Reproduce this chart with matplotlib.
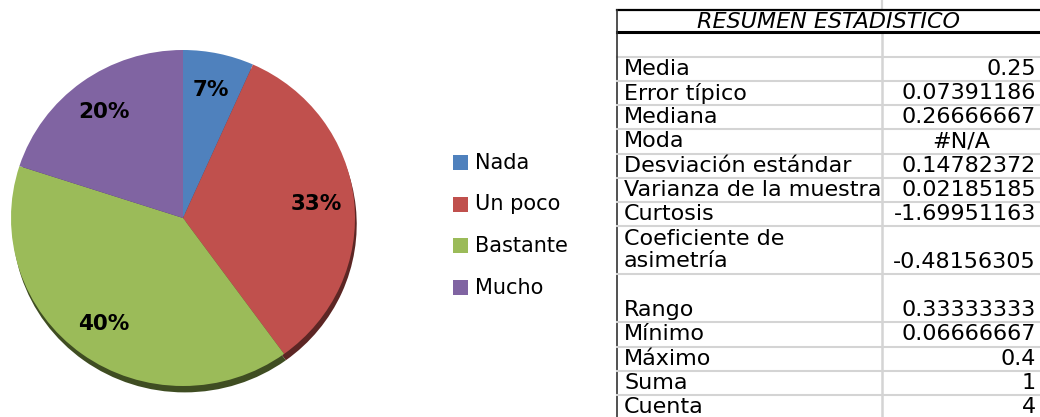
import matplotlib.pyplot as plt
from matplotlib.patches import Rectangle
from matplotlib.transforms import Bbox, TransformedBbox

# pie data
categories = ['Nada', 'Un poco', 'Bastante', 'Mucho']
shares = [0.06666667, 0.33333333, 0.4, 0.2]
colors = ['#4F81BD', '#C0504D', '#9BBB59', '#8064A2']
side_colors = ['#2C4A6E', '#5C2624', '#3F4D22', '#463659']

# summary table
table_title = 'RESUMEN ESTADISTICO'
stat_labels = ['Media', 'Error típico', 'Mediana', 'Moda', 'Desviación estándar',
               'Varianza de la muestra', 'Curtosis', 'Coeficiente de\nasimetría',
               'Rango', 'Mínimo', 'Máximo', 'Suma', 'Cuenta']
stat_values = ['0.25', '0.07391186', '0.26666667', '#N/A', '0.14782372',
               '0.02185185', '-1.69951163', '-0.48156305', '0.33333333',
               '0.06666667', '0.4', '1', '4']
row_units = [1, 1, 1, 1, 1, 1, 1, 2, 2, 1, 1, 1, 1]

W, H = 1040, 417
fig = plt.figure(figsize=(W / 100, H / 100), dpi=100)
fig.patch.set_facecolor('white')

# overlay in pixel coordinates for legend and table
ov = fig.add_axes([0, 0, 1, 1])
ov.set_xlim(0, W)
ov.set_ylim(H, 0)
ov.axis('off')

# pie: ellipse about 344 x 336 px centred at (183, 218)
ax = fig.add_axes([11 / W, (H - 386) / H, 344 / W, 336 / H])
ax.pie(shares, colors=side_colors, startangle=90, counterclock=False,
       center=(0.01, -0.038), wedgeprops=dict(linewidth=0))
wedges, texts, autotexts = ax.pie(
    shares, colors=colors, startangle=90, counterclock=False,
    autopct='%.0f%%', pctdistance=0.78,
    wedgeprops=dict(linewidth=0),
    textprops=dict(fontsize=15.5, fontweight='bold', color='black'))
ax.set_aspect('auto')
ax.set_xlim(-1, 1)
ax.set_ylim(-1, 1)
ax.axis('off')

# legend
leg_y = [162.5, 204, 245.5, 287.5]
for name, col, y in zip(categories, colors, leg_y):
    ov.add_patch(Rectangle((453, y - 7.5), 15, 15, facecolor=col, edgecolor='none'))
    ov.text(475, y, name, fontsize=15, va='center', ha='left')

# table
x_left, x_mid, x_right = 617, 882, 1040
y_top, y_head, y_first = 10, 32, 57
unit = 24.13
grey = '#D4D4D4'
fs = 16

ov.plot([x_mid, x_mid], [0, y_top], color=grey, lw=1.6)
ov.plot([x_mid, x_mid], [y_head, H], color=grey, lw=1.8)
ov.plot([x_left, x_right], [y_first, y_first], color=grey, lw=1.5)
ov.plot([x_left, x_right], [y_top, y_top], color='black', lw=1.6)
ov.plot([x_left, x_right], [y_head, y_head], color='black', lw=2.2)
ov.plot([x_left, x_left], [y_top, H], color='#333333', lw=1.2)
ov.text((x_left + x_right) / 2, (y_top + y_head) / 2 + 1, table_title,
        fontsize=fs, style='italic', ha='center', va='center')

clip = TransformedBbox(Bbox([[x_left, 0], [x_mid - 1, H]]), ov.transData)
y = y_first
for lab, val, u in zip(stat_labels, stat_values, row_units):
    bottom = y + u * unit
    nlines = lab.count('\n') + 1
    t = ov.text(x_left + 7, bottom - nlines * unit / 2, lab, fontsize=fs,
                ha='left', va='center', linespacing=1.1)
    t.set_clip_box(clip)
    t.set_clip_on(True)
    if val.startswith('#'):
        ov.text((x_mid + x_right) / 2, bottom - unit / 2, val, fontsize=fs,
                ha='center', va='center')
    else:
        ov.text(x_right - 4, bottom - unit / 2, val, fontsize=fs,
                ha='right', va='center')
    ov.plot([x_left, x_right], [bottom, bottom], color=grey, lw=1.5)
    y = bottom

fig.savefig('out.png', dpi=100)
